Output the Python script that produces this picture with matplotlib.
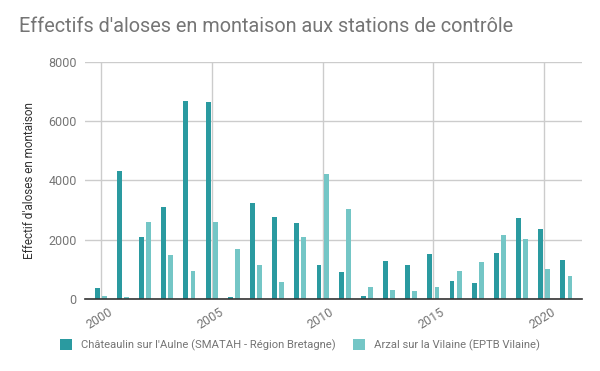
import numpy as np
import matplotlib.pyplot as plt
import matplotlib.transforms as mtransforms

years = list(range(2000, 2022))
chateaulin = [370, 4320, 2090, 3100, 6680, 6650, 80, 3240, 2770, 2565, 1150,
              910, 100, 1280, 1150, 1520, 620, 550, 1560, 2735, 2360, 1315]
arzal = [110, 80, 2600, 1485, 955, 2600, 1690, 1150, 585, 2090, 4220,
         3040, 405, 315, 280, 405, 955, 1260, 2170, 2035, 1010, 775]

label_chateaulin = "Châteaulin sur l'Aulne (SMATAH - Région Bretagne)"
label_arzal = "Arzal sur la Vilaine (EPTB Vilaine)"

dark = "#2a9aa0"
light = "#74c6c6"
grey = "#757575"

plt.rcParams["font.family"] = ["Roboto", "DejaVu Sans"]

fig = plt.figure(figsize=(6, 3.71), dpi=100)
ax = fig.add_axes([0.1417, 0.194, 0.8283, 0.639])

x = np.array(years)
w = 0.22
ax.bar(x - 0.16, chateaulin, width=w, color=dark, label=label_chateaulin, zorder=3)
ax.bar(x + 0.16, arzal, width=w, color=light, label=label_arzal, zorder=3)

ax.set_xlim(1999.29, 2021.7)
ax.set_ylim(0, 8000)
ax.set_yticks([0, 2000, 4000, 6000, 8000])
ax.set_xticks([2000, 2005, 2010, 2015, 2020])
ax.grid(True, color="#cccccc", linewidth=1, zorder=0)

for s in ["top", "right", "left"]:
    ax.spines[s].set_visible(False)
ax.spines["bottom"].set_color("#333333")
ax.spines["bottom"].set_linewidth(1.2)
ax.spines["bottom"].set_zorder(4)

ax.tick_params(axis="both", length=0, labelsize=9, labelcolor=grey)
ax.tick_params(axis="y", pad=6)
# decale un peu les annees vers la droite
offset = mtransforms.ScaledTranslation(0.07, -0.02, fig.dpi_scale_trans)
for lbl in ax.get_xticklabels():
    lbl.set_rotation(32)
    lbl.set_ha("right")
    lbl.set_rotation_mode("anchor")
    lbl.set_transform(lbl.get_transform() + offset)

ax.set_ylabel("Effectif d'aloses en montaison", fontsize=8.5, color="#333333", labelpad=9)

fig.text(0.032, 0.915, "Effectifs d'aloses en montaison aux stations de contrôle",
         fontsize=14.3, color=grey)

fig.legend(loc="center", bbox_to_anchor=(0.5, 0.07), ncol=2, frameon=False,
           fontsize=8.15, labelcolor=grey, handlelength=1.06, handleheight=1.06,
           handletextpad=0.8, columnspacing=1.5, borderaxespad=0)

fig.savefig("out.png", dpi=100, facecolor="white")
